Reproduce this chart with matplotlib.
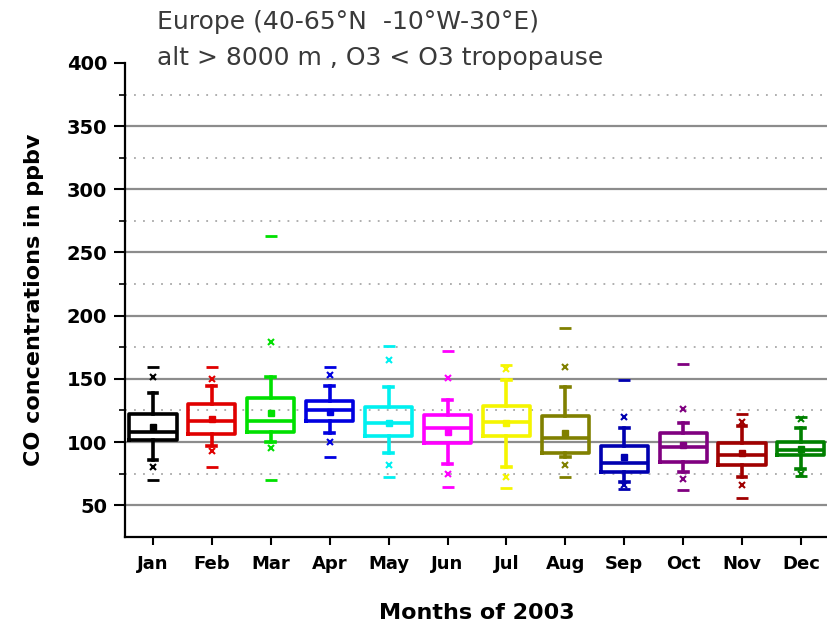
import numpy as np
import matplotlib
matplotlib.use("Agg")
import matplotlib.pyplot as plt

# Valeurs (ppbv)
mois = ["Jan", "Feb", "Mar", "Apr", "May", "Jun", "Jul", "Aug", "Sep", "Oct", "Nov", "Dec"]
couleurs = ["#000000", "#e00000", "#00e000", "#0000e0", "#00f0f0", "#ff00ff",
            "#f5f500", "#808000", "#0000b0", "#800080", "#a00000", "#008000"]
q1 = [101.5, 106, 108, 117, 105, 99.5, 105, 91.5, 76.5, 84.5, 82, 89.5]
mediane = [108, 117, 117, 125, 115, 111, 116, 103, 83, 96, 89.5, 94]
q3 = [122, 130, 134.5, 132.5, 128, 121.5, 128.5, 120.5, 97, 107, 99, 100]
moyenne = [111.5, 118.5, 123, 124, 115, 108, 115, 107.5, 88, 98, 91.5, 94.5]
moust_bas = [86, 97, 100, 107, 91.5, 82.5, 80, 88, 68.5, 76.5, 72.5, 79]
moust_haut = [139, 144, 151.5, 144, 143.5, 133, 149, 143.5, 111, 115, 113, 111]
x_bas = [80, 93, 95, 100, 81.5, 75, 72, 82, 66, 70.5, 66, 75]
x_haut = [151.5, 150, 179, 153, 165, 151, 158, 159.5, 120, 126.5, 116, 118]
v_min = [70, 80, 70, 88, 72.5, 64.5, 63.5, 72.5, 63, 62, 56, 73]
v_max = [159.5, 159.5, 263, 159.5, 176, 172, 161, 190, 149, 162, 122.5, 120]

fig = plt.figure(figsize=(8.28, 6.36), dpi=100)
ax = fig.add_axes([0.151, 0.156, 0.849, 0.745])

# grille : traits pleins tous les 50, pointillés entre
for y in range(50, 400, 50):
    ax.axhline(y, color="#8c8c8c", lw=1.6, zorder=0)
for y in range(75, 400, 50):
    ax.axhline(y, color="#a8a8a8", lw=1.3, ls=(0, (1, 4)), zorder=0)

positions = np.arange(1, 13)
for i in range(12):
    c = couleurs[i]
    stats = [{"med": mediane[i], "q1": q1[i], "q3": q3[i],
              "whislo": moust_bas[i], "whishi": moust_haut[i],
              "mean": moyenne[i], "fliers": []}]
    ax.bxp(stats, positions=[positions[i]], widths=0.8, showmeans=True,
           boxprops=dict(color=c, lw=2.6),
           medianprops=dict(color=c, lw=2.6),
           whiskerprops=dict(color=c, lw=2.6),
           capprops=dict(color=c, lw=2.6),
           meanprops=dict(marker="s", markersize=4, markerfacecolor=c, markeredgecolor=c),
           capwidths=0.15, zorder=3)
    ax.plot([positions[i]] * 2, [x_bas[i], x_haut[i]], ls="none", marker="x",
            color=c, markersize=5, mew=1.5, zorder=4)
    ax.plot([positions[i]] * 2, [v_min[i], v_max[i]], ls="none", marker="_",
            color=c, markersize=8, mew=2, zorder=4)

ax.set_xlim(0.525, 12.46)
ax.set_ylim(25, 400)
ax.set_xticks(positions)
ax.set_xticklabels(mois, fontsize=13, fontweight="heavy")
ax.set_yticks(range(50, 401, 50))
ax.set_yticks(range(75, 400, 50), minor=True)
ax.tick_params(axis="y", which="major", length=8, width=1.5, labelsize=14, pad=5)
ax.tick_params(axis="y", which="minor", length=4, width=1.2)
ax.tick_params(axis="x", length=6, width=1.5, pad=7)
for lab in ax.get_yticklabels():
    lab.set_fontweight("heavy")

ax.spines["top"].set_visible(False)
ax.spines["right"].set_visible(False)
ax.spines["left"].set_linewidth(1.6)
ax.spines["bottom"].set_linewidth(1.6)

ax.set_ylabel("CO concentrations in ppbv", fontsize=16, fontweight="bold", labelpad=16)
ax.set_xlabel("Months of 2003", fontsize=16, fontweight="bold", labelpad=22)

fig.text(0.19, 0.965, "Europe (40-65°N  -10°W-30°E)", fontsize=18, color="#3a3a3a", va="center")
fig.text(0.19, 0.909, "alt > 8000 m , O3 < O3 tropopause", fontsize=18, color="#3a3a3a", va="center")

fig.savefig("out.png", dpi=100)
